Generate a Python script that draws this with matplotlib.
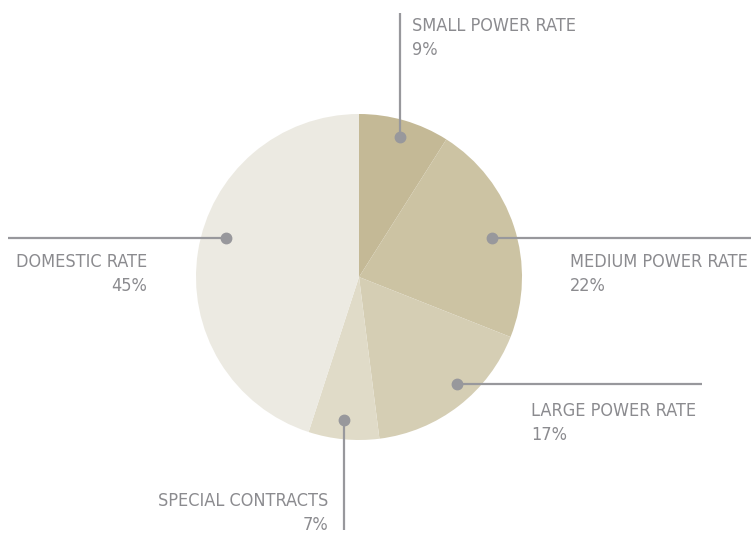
import matplotlib
matplotlib.use("Agg")
import matplotlib.pyplot as plt

# data
categories = ["SMALL POWER RATE", "MEDIUM POWER RATE", "LARGE POWER RATE",
              "SPECIAL CONTRACTS", "DOMESTIC RATE"]
shares = [9, 22, 17, 7, 45]
colors = ["#c4b996", "#ccc3a3", "#d5ceb4", "#e0dbc8", "#eceae2"]

W, H = 751, 533
TXT = "#8b8b8f"
LINE = "#98989c"

# leader layout in pixel coords (top-left origin): dot, line end, text anchor, ha
leaders = [
    ((400, 137), (400, 13), (412, 31), "left"),
    ((492, 238), (751, 238), (570, 267), "left"),
    ((457, 384), (702, 384), (531, 416), "left"),
    ((344, 420), (344, 530), (328, 506), "right"),
    ((226, 238), (8, 238), (147, 267), "right"),
]

fig = plt.figure(figsize=(W / 100, H / 100), dpi=100)
ax = fig.add_axes([0, 0, 1, 1])

ax.pie(shares, colors=colors, startangle=90, counterclock=False,
       center=(359, H - 277), radius=163, frame=True,
       wedgeprops=dict(linewidth=0))
ax.set_xlim(0, W)
ax.set_ylim(0, H)
ax.set_aspect("equal")
ax.axis("off")

for cat, val, (dot, end, tpos, ha) in zip(categories, shares, leaders):
    ax.plot([dot[0], end[0]], [H - dot[1], H - end[1]], color=LINE, lw=1.6,
            solid_capstyle="butt", zorder=3)
    ax.plot(dot[0], H - dot[1], "o", color=LINE, ms=7.5, zorder=4)
    for txt, dy in ((cat, 0), (f"{val}%", 24)):
        ax.text(tpos[0], H - tpos[1] - dy, txt, ha=ha, va="baseline",
                fontsize=13, color=TXT, family="DejaVu Sans",
                fontstretch="condensed")

fig.savefig("out.png", dpi=100)
